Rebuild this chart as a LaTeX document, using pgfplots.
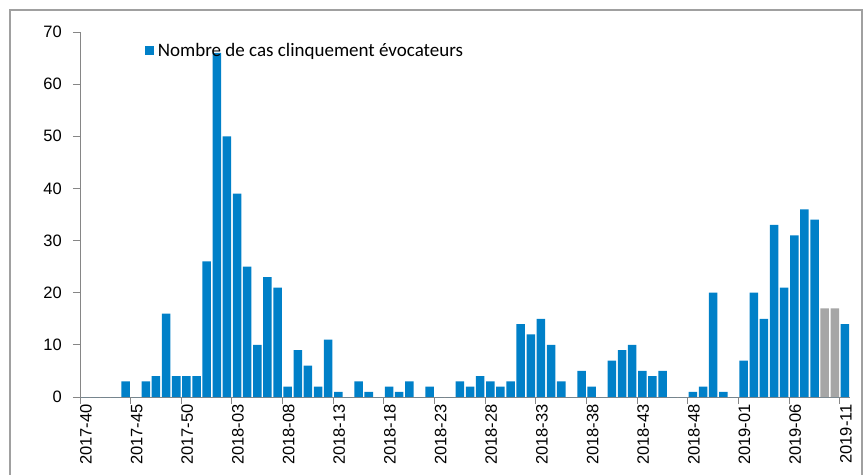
\documentclass[border=0pt]{standalone}
\usepackage{fontspec}
\setmainfont{Carlito}
\newfontfamily\arialfont{Liberation Sans}
\usepackage{pgfplots}
\pgfplotsset{compat=1.18}
\definecolor{barblue}{HTML}{0080C8}
\definecolor{bargray}{HTML}{A6A6A6}
\definecolor{axgray}{HTML}{868686}
\definecolor{framegray}{HTML}{A0A0A0}
\begin{document}
\begin{tikzpicture}
\useasboundingbox (-80bp,-78bp) rectangle (785bp,397bp);
\draw[framegray, line width=1.5bp] (-70bp,-120bp) -- (-70bp,387bp) -- (782bp,387bp) -- (782bp,-120bp);
\begin{axis}[
  at={(0,0)}, anchor=south west,
  scale only axis, width=770bp, height=365bp,
  xmin=-0.5, xmax=75.5, ymin=0, ymax=70,
  axis x line*=bottom, axis y line*=left,
  axis line style={axgray, line width=1bp},
  tick style={axgray, line width=1bp},
  tick align=outside, major tick length=7bp,
  ytick={0,10,...,70},
  xtick={-0.5,4.5,...,74.5},
  xticklabels={2017-40,2017-45,2017-50,2018-03,2018-08,2018-13,2018-18,2018-23,2018-28,2018-33,2018-38,2018-43,2018-48,2019-01,2019-06,2019-11},
  xticklabel style={xshift=5bp, rotate=90, anchor=east, inner sep=0pt, yshift=-1bp},
  yticklabel style={inner sep=0pt, xshift=-11bp},
  ticklabel style={font=\fontsize{16.5bp}{18bp}\arialfont},
  /pgf/number format/assume math mode=true,
  ybar, bar width=0.84, bar shift=0pt,
  legend style={draw=none, fill=none, at={(0.084,0.975)}, anchor=north west,
    font=\fontsize{19bp}{21bp}\selectfont, inner sep=0pt,
    /tikz/every even column/.append style={column sep=0pt}},
  legend image code/.code={\fill (0bp,-4.5bp) rectangle (9bp,4.5bp);},
]
\addplot[fill=barblue, draw=none] coordinates {
(0,0) (1,0) (2,0) (3,0) (4,3) (5,0) (6,3) (7,4) (8,16) (9,4)
(10,4) (11,4) (12,26) (13,66) (14,50) (15,39) (16,25) (17,10) (18,23) (19,21)
(20,2) (21,9) (22,6) (23,2) (24,11) (25,1) (26,0) (27,3) (28,1) (29,0)
(30,2) (31,1) (32,3) (33,0) (34,2) (35,0) (36,0) (37,3) (38,2) (39,4)
(40,3) (41,2) (42,3) (43,14) (44,12) (45,15) (46,10) (47,3) (48,0) (49,5)
(50,2) (51,0) (52,7) (53,9) (54,10) (55,5) (56,4) (57,5) (58,0) (59,0)
(60,1) (61,2) (62,20) (63,1) (64,0) (65,7) (66,20) (67,15) (68,33) (69,21)
(70,31) (71,36) (72,34) (73,0) (74,0) (75,14)
};
\addlegendentry{\hspace{2bp}Nombre de cas clinquement évocateurs}
\addplot[fill=bargray, draw=none, forget plot] coordinates {(73,17) (74,17)};
\end{axis}
\end{tikzpicture}
\end{document}
